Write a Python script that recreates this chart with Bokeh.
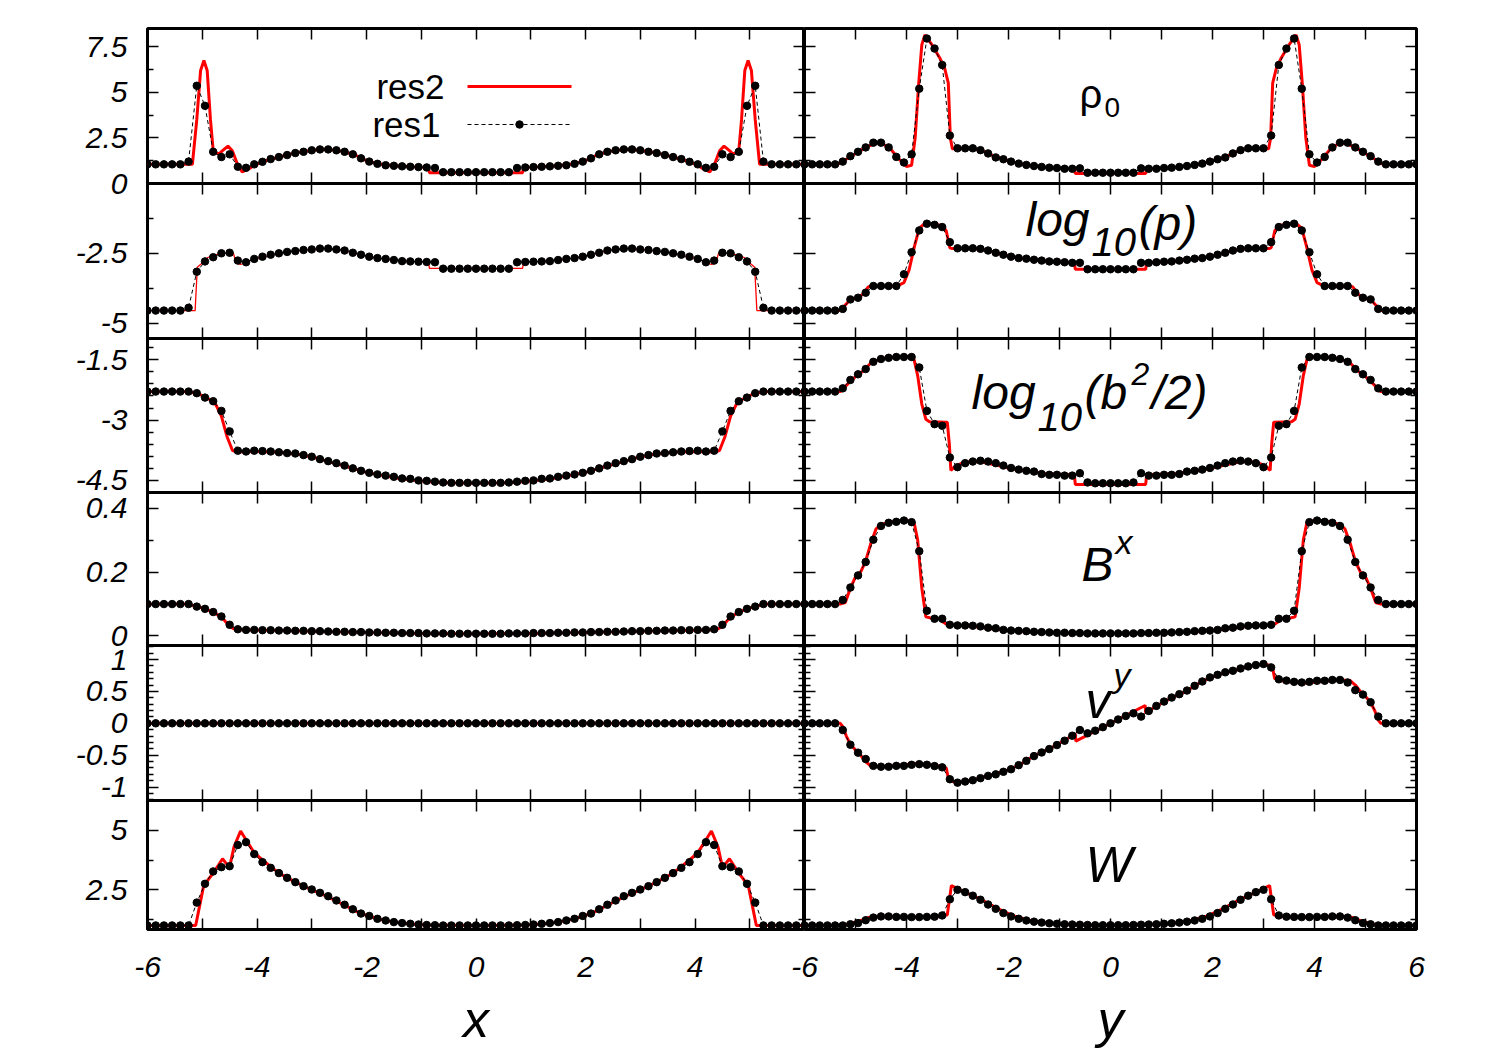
from bokeh.plotting import figure
from bokeh.layouts import row, column
from bokeh.models import (Range1d, LinearAxis, FixedTicker, CustomJSTickFormatter,
                          Label, Arrow)
from bokeh.embed import file_html
from bokeh.resources import INLINE

# ---------------- data ----------------
# coarse run (res1): 81 cell positions on [-6, 6]
X_RES1 = [-6.0, -5.85, -5.7, -5.55, -5.4, -5.25, -5.1, -4.95, -4.8, -4.65,
          -4.5, -4.35, -4.2, -4.05, -3.9, -3.75, -3.6, -3.45, -3.3, -3.15,
          -3.0, -2.85, -2.7, -2.55, -2.4, -2.25, -2.1, -1.95, -1.8, -1.65,
          -1.5, -1.35, -1.2, -1.05, -0.9, -0.75, -0.6, -0.45, -0.3, -0.15,
          0.0, 0.15, 0.3, 0.45, 0.6, 0.75, 0.9, 1.05, 1.2, 1.35,
          1.5, 1.65, 1.8, 1.95, 2.1, 2.25, 2.4, 2.55, 2.7, 2.85,
          3.0, 3.15, 3.3, 3.45, 3.6, 3.75, 3.9, 4.05, 4.2, 4.35,
          4.5, 4.65, 4.8, 4.95, 5.1, 5.25, 5.4, 5.55, 5.7, 5.85, 6.0]

# ----- left column (cut along x) -----
L_RHO_RES1 = [1.05,1.05,1.05,1.05,1.05,1.2,5.36,4.26,1.74,1.45,1.6,0.92,0.86,1.05,1.19,1.34,1.45,1.56,1.67,1.74,
              1.82,1.87,1.87,1.82,1.74,1.6,1.38,1.2,1.08,1.0,0.97,0.94,0.92,0.9,0.88,0.85,0.62,0.62,0.62,0.62,0.62,
              0.62,0.62,0.62,0.62,0.85,0.88,0.9,0.92,0.94,0.97,1.0,1.08,1.2,1.38,1.6,1.74,1.82,1.87,1.87,
              1.82,1.74,1.67,1.56,1.45,1.34,1.19,1.05,0.86,0.92,1.6,1.45,1.74,4.26,5.36,1.2,1.05,1.05,1.05,1.05,1.05]
L_RHO_RES2_X = [-6, -5.18, -5.1, -5.03, -4.97, -4.91, -4.85, -4.8, -4.7, -4.63, -4.53, -4.45, -4.35, -4.27, -4.15,
                -4.05, -3.9, -3.6, -3.3, -3.0, -2.8, -2.6, -2.4, -2.2, -2.0, -1.8, -1.5, -1.2, -0.87, -0.85,
                0.85, 0.87, 1.2, 1.5, 1.8, 2.0, 2.2, 2.4, 2.6, 2.8, 3.0, 3.3, 3.6, 3.9, 4.05,
                4.15, 4.27, 4.35, 4.45, 4.53, 4.63, 4.7, 4.8, 4.85, 4.91, 4.97, 5.03, 5.1, 5.18, 6]
L_RHO_RES2_Y = [1.05, 1.05, 3.5, 6.2, 6.75, 6.2, 3.5, 1.8, 1.6, 1.8, 2.05, 1.8, 1.0, 0.64, 0.8,
                1.0, 1.19, 1.45, 1.67, 1.82, 1.88, 1.84, 1.74, 1.55, 1.25, 1.08, 0.97, 0.92, 0.88, 0.59,
                0.59, 0.88, 0.92, 0.97, 1.08, 1.25, 1.55, 1.74, 1.84, 1.88, 1.82, 1.67, 1.45, 1.19, 1.0,
                0.8, 0.64, 1.0, 1.8, 2.05, 1.8, 1.6, 1.8, 3.5, 6.2, 6.75, 6.2, 3.5, 1.05, 1.05]

L_P_RES1 = [-4.55,-4.55,-4.55,-4.55,-4.55,-4.45,-3.16,-2.79,-2.64,-2.5,-2.48,-2.76,-2.82,-2.7,-2.62,-2.55,-2.5,-2.45,-2.42,-2.38,
            -2.36,-2.33,-2.33,-2.36,-2.4,-2.48,-2.55,-2.62,-2.67,-2.7,-2.74,-2.78,-2.79,-2.8,-2.81,-2.82,-3.05,-3.05,-3.05,-3.05,-3.05,
            -3.05,-3.05,-3.05,-3.05,-2.82,-2.81,-2.8,-2.79,-2.78,-2.74,-2.7,-2.67,-2.62,-2.55,-2.48,-2.4,-2.36,-2.33,-2.33,
            -2.36,-2.38,-2.42,-2.45,-2.5,-2.55,-2.62,-2.7,-2.82,-2.76,-2.48,-2.5,-2.64,-2.79,-3.16,-4.45,-4.55,-4.55,-4.55,-4.55,-4.55]
L_P_RES2_X = [-6, -5.13, -5.09, -5.0, -4.9, -4.75, -4.6, -4.43, -4.38, -4.3, -4.15, -4.0, -3.6, -3.3, -3.0, -2.8,
              -2.6, -2.4, -2.1, -1.8, -1.5, -1.2, -0.87, -0.85, 0.85, 0.87, 1.2, 1.5, 1.8, 2.1, 2.4, 2.6,
              2.8, 3.0, 3.3, 3.6, 4.0, 4.15, 4.3, 4.38, 4.43, 4.6, 4.75, 4.9, 5.0, 5.09, 5.13, 6]
L_P_RES2_Y = [-4.55, -4.55, -3.0, -2.85, -2.65, -2.55, -2.5, -2.5, -2.85, -2.9, -2.78, -2.68, -2.5, -2.42, -2.36, -2.33,
              -2.35, -2.4, -2.55, -2.67, -2.74, -2.79, -2.81, -3.04, -3.04, -2.81, -2.79, -2.74, -2.67, -2.55, -2.4, -2.35,
              -2.33, -2.36, -2.42, -2.5, -2.68, -2.78, -2.9, -2.85, -2.5, -2.5, -2.55, -2.65, -2.85, -3.0, -4.55, -4.55]

L_B2_RES1 = [-2.29,-2.29,-2.29,-2.29,-2.29,-2.29,-2.33,-2.44,-2.53,-2.77,-3.28,-3.76,-3.78,-3.76,-3.77,-3.78,-3.8,-3.82,-3.83,-3.87,
             -3.91,-3.97,-4.02,-4.07,-4.13,-4.2,-4.26,-4.31,-4.35,-4.38,-4.41,-4.45,-4.46,-4.5,-4.51,-4.53,-4.55,-4.56,-4.56,-4.56,-4.56,
             -4.56,-4.56,-4.56,-4.55,-4.53,-4.51,-4.5,-4.46,-4.45,-4.41,-4.38,-4.35,-4.31,-4.26,-4.2,-4.13,-4.07,-4.02,-3.97,
             -3.91,-3.87,-3.83,-3.82,-3.8,-3.78,-3.77,-3.76,-3.78,-3.76,-3.28,-2.77,-2.53,-2.44,-2.33,-2.29,-2.29,-2.29,-2.29,-2.29,-2.29]
L_B2_RES2_X = [-6, -5.3, -5.1, -4.95, -4.85, -4.75, -4.65, -4.55, -4.45, -4.38, -4.0, -3.6, -3.2, -2.9, -2.6,
               -2.3, -2.0, -1.7, -1.4, -1.1, -0.8, -0.5, 0, 0.5, 0.8, 1.1, 1.4, 1.7, 2.0, 2.3,
               2.6, 2.9, 3.2, 3.6, 4.0, 4.38, 4.45, 4.55, 4.65, 4.75, 4.85, 4.95, 5.1, 5.3, 6]
L_B2_RES2_Y = [-2.29, -2.29, -2.33, -2.42, -2.5, -2.62, -2.9, -3.4, -3.75, -3.79, -3.78, -3.8, -3.86, -3.95, -4.07,
               -4.18, -4.3, -4.38, -4.45, -4.5, -4.54, -4.56, -4.57, -4.56, -4.54, -4.5, -4.45, -4.38, -4.3, -4.18,
               -4.07, -3.95, -3.86, -3.8, -3.78, -3.79, -3.75, -3.4, -2.9, -2.62, -2.5, -2.42, -2.33, -2.29, -2.29]

L_BX_RES1 = [0.1,0.1,0.1,0.1,0.1,0.1,0.092,0.085,0.075,0.061,0.035,0.021,0.019,0.019,0.018,0.018,0.017,0.017,0.016,0.016,
             0.015,0.015,0.014,0.013,0.013,0.012,0.012,0.011,0.011,0.010,0.010,0.009,0.009,0.009,0.008,0.008,0.008,0.007,0.007,0.007,0.007,
             0.007,0.007,0.007,0.008,0.008,0.008,0.009,0.009,0.009,0.010,0.010,0.011,0.011,0.012,0.012,0.013,0.013,0.014,0.015,
             0.015,0.016,0.016,0.017,0.017,0.018,0.018,0.019,0.019,0.021,0.035,0.061,0.075,0.085,0.092,0.1,0.1,0.1,0.1,0.1,0.1]
L_BX_RES2_X = [-6, -5.3, -5.1, -4.9, -4.75, -4.6, -4.5, -4.4, -4.2, -3.0, -2.0, -1.0, 0,
               1.0, 2.0, 3.0, 4.2, 4.4, 4.5, 4.6, 4.75, 4.9, 5.1, 5.3, 6]
L_BX_RES2_Y = [0.1, 0.1, 0.093, 0.082, 0.07, 0.05, 0.03, 0.02, 0.019, 0.015, 0.011, 0.008, 0.007,
               0.008, 0.011, 0.015, 0.019, 0.02, 0.03, 0.05, 0.07, 0.082, 0.093, 0.1, 0.1]

L_VY_RES1 = [0.0] * 81          # v^y vanishes along the x cut
L_VY_RES2_X = [-6, 6]
L_VY_RES2_Y = [0.0, 0.0]

L_W_RES1 = [1.0,1.0,1.0,1.0,1.0,1.0,1.96,2.75,3.27,3.45,3.49,4.38,4.5,4.0,3.66,3.42,3.2,3.0,2.82,2.65,
            2.51,2.37,2.23,2.05,1.87,1.68,1.5,1.4,1.28,1.21,1.14,1.1,1.07,1.04,1.02,1.01,1.0,1.0,1.0,1.0,1.0,
            1.0,1.0,1.0,1.0,1.01,1.02,1.04,1.07,1.1,1.14,1.21,1.28,1.4,1.5,1.68,1.87,2.05,2.23,2.37,
            2.51,2.65,2.82,3.0,3.2,3.42,3.66,4.0,4.5,4.38,3.49,3.45,3.27,2.75,1.96,1.0,1.0,1.0,1.0,1.0,1.0]
L_W_RES2_X = [-6, -5.12, -5.05, -4.98, -4.9, -4.8, -4.7, -4.63, -4.56, -4.5, -4.42, -4.3, -4.2, -4.05, -3.9, -3.6,
              -3.3, -3.0, -2.7, -2.4, -2.1, -1.8, -1.5, -1.2, -0.9, 0, 0.9, 1.2, 1.5, 1.8, 2.1, 2.4, 2.7, 3.0,
              3.3, 3.6, 3.9, 4.05, 4.2, 4.3, 4.42, 4.5, 4.56, 4.63, 4.7, 4.8, 4.9, 4.98, 5.05, 5.12, 6]
L_W_RES2_Y = [1.0, 1.0, 1.8, 2.6, 2.9, 3.2, 3.55, 3.8, 3.6, 3.45, 4.3, 4.97, 4.6, 4.05, 3.75, 3.2,
              2.82, 2.5, 2.2, 1.85, 1.5, 1.28, 1.14, 1.06, 1.02, 1.0, 1.02, 1.06, 1.14, 1.28, 1.5, 1.85, 2.2, 2.5,
              2.82, 3.2, 3.75, 4.05, 4.6, 4.97, 4.3, 3.45, 3.6, 3.8, 3.55, 3.2, 2.9, 2.6, 1.8, 1.0, 1.0]

# ----- right column (cut along y) -----
R_RHO_RES1 = [1.05,1.05,1.05,1.05,1.05,1.2,1.5,1.74,1.98,2.24,2.24,1.98,1.46,1.15,1.6,5.2,7.95,7.4,6.5,2.63,
              1.93,1.93,1.93,1.83,1.65,1.43,1.33,1.2,1.09,1.02,0.96,0.91,0.87,0.85,0.81,0.81,0.83,0.59,0.59,0.59,0.59,
              0.59,0.59,0.59,0.83,0.81,0.81,0.85,0.87,0.91,0.96,1.02,1.09,1.2,1.33,1.43,1.65,1.83,1.93,1.93,
              1.93,2.63,6.5,7.4,7.95,5.2,1.6,1.15,1.46,1.98,2.24,2.24,1.98,1.74,1.5,1.2,1.05,1.05,1.05,1.05,1.05]
R_RHO_RES2_X = [-6, -5.35, -5.2, -5.0, -4.8, -4.6, -4.45, -4.3, -4.15, -4.0, -3.9, -3.83, -3.76, -3.7, -3.64, -3.5,
                -3.35, -3.25, -3.18, -3.14, -3.1, -2.7, -2.55, -2.4, -2.25, -2.1, -1.95, -1.8, -1.5, -1.2, -0.9, -0.71, -0.69,
                0.69, 0.71, 0.9, 1.2, 1.5, 1.8, 1.95, 2.1, 2.25, 2.4, 2.55, 2.7, 3.1, 3.14, 3.18, 3.25, 3.35,
                3.5, 3.64, 3.7, 3.76, 3.83, 3.9, 4.0, 4.15, 4.3, 4.45, 4.6, 4.8, 5.0, 5.2, 5.35, 6]
R_RHO_RES2_Y = [1.05, 1.05, 1.3, 1.65, 1.98, 2.22, 2.15, 1.85, 1.35, 0.93, 1.0, 2.5, 5.5, 7.6, 8.15, 7.6,
                6.9, 6.3, 5.5, 2.5, 1.9, 1.93, 1.83, 1.65, 1.45, 1.33, 1.2, 1.1, 0.96, 0.87, 0.82, 0.8, 0.55,
                0.55, 0.8, 0.82, 0.87, 0.96, 1.1, 1.2, 1.33, 1.45, 1.65, 1.83, 1.93, 1.9, 2.5, 5.5, 6.3, 6.9,
                7.6, 8.15, 7.6, 5.5, 2.5, 1.0, 0.93, 1.35, 1.85, 2.15, 2.22, 1.98, 1.65, 1.3, 1.05, 1.05]

R_P_RES1 = [-4.55,-4.55,-4.55,-4.55,-4.55,-4.49,-4.15,-4.09,-3.91,-3.67,-3.67,-3.67,-3.67,-3.25,-2.46,-1.68,-1.44,-1.48,-1.56,-2.1,
            -2.32,-2.32,-2.32,-2.34,-2.4,-2.48,-2.55,-2.62,-2.67,-2.69,-2.73,-2.76,-2.79,-2.8,-2.82,-2.84,-2.84,-3.07,-3.07,-3.07,-3.07,
            -3.07,-3.07,-3.07,-2.84,-2.84,-2.82,-2.8,-2.79,-2.76,-2.73,-2.69,-2.67,-2.62,-2.55,-2.48,-2.4,-2.34,-2.32,-2.32,
            -2.32,-2.1,-1.56,-1.48,-1.44,-1.68,-2.46,-3.25,-3.67,-3.67,-3.67,-3.67,-3.91,-4.09,-4.15,-4.49,-4.55,-4.55,-4.55,-4.55,-4.55]
R_P_RES2_X = [-6, -5.3, -5.2, -5.1, -4.95, -4.85, -4.75, -4.6, -4.2, -4.05, -3.95, -3.85, -3.75, -3.65, -3.5, -3.3,
              -3.22, -3.15, -3.1, -2.7, -2.4, -2.1, -1.8, -1.5, -1.2, -0.9, -0.71, -0.69,
              0.69, 0.71, 0.9, 1.2, 1.5, 1.8, 2.1, 2.4, 2.7, 3.1, 3.15, 3.22, 3.3, 3.5,
              3.65, 3.75, 3.85, 3.95, 4.05, 4.2, 4.6, 4.75, 4.85, 4.95, 5.1, 5.2, 5.3, 6]
R_P_RES2_Y = [-4.55, -4.55, -4.35, -4.15, -4.1, -3.95, -3.7, -3.68, -3.68, -3.55, -3.1, -2.3, -1.6, -1.45, -1.45, -1.5,
              -1.7, -2.3, -2.33, -2.33, -2.4, -2.55, -2.67, -2.73, -2.79, -2.82, -2.84, -3.07,
              -3.07, -2.84, -2.82, -2.79, -2.73, -2.67, -2.55, -2.4, -2.33, -2.33, -2.3, -1.7, -1.5, -1.45,
              -1.45, -1.6, -2.3, -3.1, -3.55, -3.68, -3.68, -3.7, -3.95, -4.1, -4.15, -4.35, -4.55, -4.55]

R_B2_RES1 = [-2.29,-2.29,-2.29,-2.29,-2.29,-2.21,-2.0,-1.86,-1.73,-1.55,-1.48,-1.45,-1.43,-1.43,-1.43,-1.69,-2.77,-3.1,-3.14,-3.93,
             -4.17,-4.07,-4.03,-4.01,-4.03,-4.07,-4.13,-4.19,-4.23,-4.26,-4.28,-4.34,-4.36,-4.36,-4.38,-4.38,-4.32,-4.55,-4.57,-4.57,-4.57,
             -4.57,-4.57,-4.55,-4.32,-4.38,-4.38,-4.36,-4.36,-4.34,-4.28,-4.26,-4.23,-4.19,-4.13,-4.07,-4.03,-4.01,-4.03,-4.07,
             -4.17,-3.93,-3.14,-3.1,-2.77,-1.69,-1.43,-1.43,-1.43,-1.45,-1.48,-1.55,-1.73,-1.86,-2.0,-2.21,-2.29,-2.29,-2.29,-2.29,-2.29]
R_B2_RES2_X = [-6, -5.3, -5.15, -5.0, -4.85, -4.7, -4.5, -4.2, -3.95, -3.85, -3.78, -3.7, -3.62, -3.55, -3.2, -3.16,
               -3.13, -3.05, -2.9, -2.7, -2.5, -2.2, -1.9, -1.6, -1.3, -0.9, -0.71, -0.69,
               0.69, 0.71, 0.9, 1.3, 1.6, 1.9, 2.2, 2.5, 2.7, 2.9, 3.05, 3.13, 3.16, 3.2,
               3.55, 3.62, 3.7, 3.78, 3.85, 3.95, 4.2, 4.5, 4.7, 4.85, 5.0, 5.15, 5.3, 6]
R_B2_RES2_Y = [-2.29, -2.29, -2.1, -1.92, -1.78, -1.58, -1.47, -1.43, -1.42, -1.5, -1.9, -2.6, -2.98, -3.04, -3.05, -3.6,
               -4.25, -4.15, -4.06, -4.02, -4.05, -4.13, -4.22, -4.28, -4.33, -4.35, -4.35, -4.6,
               -4.6, -4.35, -4.35, -4.33, -4.28, -4.22, -4.13, -4.05, -4.02, -4.06, -4.15, -4.25, -3.6, -3.05,
               -3.04, -2.98, -2.6, -1.9, -1.5, -1.42, -1.43, -1.47, -1.58, -1.78, -1.92, -2.1, -2.29, -2.29]

R_BX_RES1 = [0.1,0.1,0.1,0.1,0.1,0.113,0.152,0.19,0.232,0.302,0.345,0.355,0.358,0.362,0.357,0.266,0.079,0.054,0.054,0.035,
             0.033,0.033,0.032,0.03,0.026,0.024,0.019,0.017,0.016,0.015,0.013,0.012,0.011,0.01,0.01,0.009,0.009,0.008,0.008,0.008,0.008,
             0.008,0.008,0.008,0.009,0.009,0.01,0.01,0.011,0.012,0.013,0.015,0.016,0.017,0.019,0.024,0.026,0.03,0.032,0.033,
             0.033,0.035,0.054,0.054,0.079,0.266,0.357,0.362,0.358,0.355,0.345,0.302,0.232,0.19,0.152,0.113,0.1,0.1,0.1,0.1,0.1]
R_BX_RES2_X = [-6, -5.3, -5.2, -5.1, -5.0, -4.9, -4.8, -4.7, -4.6, -4.5, -4.3, -4.0, -3.85, -3.78, -3.7, -3.62,
               -3.5, -3.35, -3.3, -3.2, -2.8, -2.4, -2.0, -1.5, -1.0, 0, 1.0, 1.5, 2.0, 2.4, 2.8, 3.2,
               3.3, 3.35, 3.5, 3.62, 3.7, 3.78, 3.85, 4.0, 4.3, 4.5, 4.6, 4.7, 4.8, 4.9, 5.0, 5.1, 5.2, 5.3, 6]
R_BX_RES2_Y = [0.1, 0.1, 0.105, 0.15, 0.185, 0.2, 0.235, 0.29, 0.335, 0.35, 0.358, 0.362, 0.355, 0.3, 0.15, 0.06,
               0.055, 0.055, 0.045, 0.035, 0.032, 0.024, 0.017, 0.012, 0.009, 0.008, 0.009, 0.012, 0.017, 0.024, 0.032, 0.035,
               0.045, 0.055, 0.055, 0.06, 0.15, 0.3, 0.355, 0.362, 0.358, 0.35, 0.335, 0.29, 0.235, 0.2, 0.185, 0.15, 0.105, 0.1, 0.1]

R_VY_RES1 = [0.0,0.0,0.0,0.0,0.0,-0.105,-0.336,-0.46,-0.56,-0.667,-0.68,-0.68,-0.667,-0.667,-0.65,-0.64,-0.65,-0.67,-0.69,-0.877,
             -0.93,-0.913,-0.892,-0.86,-0.824,-0.8,-0.76,-0.72,-0.656,-0.588,-0.514,-0.457,-0.404,-0.341,-0.273,-0.194,-0.105,-0.157,-0.115,-0.06,0.0,
             0.06,0.115,0.157,0.105,0.194,0.273,0.341,0.404,0.457,0.514,0.588,0.656,0.72,0.76,0.8,0.824,0.86,0.892,0.913,
             0.93,0.877,0.69,0.67,0.65,0.64,0.65,0.667,0.667,0.68,0.68,0.64,0.52,0.45,0.33,0.105,0.0,0.0,0.0,0.0,0.0]
R_VY_RES2_X = [-6, -5.3, -5.25, -5.18, -5.1, -5.0, -4.9, -4.8, -4.7, -4.5, -4.2, -3.8, -3.4, -3.22, -3.17, -3.0,
               -2.7, -2.4, -2.1, -1.8, -1.5, -1.2, -0.9, -0.69, -0.68,
               0.68, 0.69, 0.9, 1.2, 1.5, 1.8, 2.1, 2.4, 2.7, 3.0, 3.17, 3.22, 3.4, 3.8, 4.2,
               4.5, 4.7, 4.8, 4.9, 5.0, 5.1, 5.18, 5.25, 5.3, 6]
R_VY_RES2_Y = [0.0, 0.0, -0.05, -0.2, -0.33, -0.42, -0.5, -0.6, -0.67, -0.68, -0.66, -0.63, -0.66, -0.7, -0.9, -0.93,
               -0.89, -0.82, -0.76, -0.66, -0.51, -0.4, -0.27, -0.16, -0.28,
               0.28, 0.16, 0.27, 0.4, 0.51, 0.66, 0.76, 0.82, 0.89, 0.93, 0.9, 0.7, 0.66, 0.63, 0.66,
               0.68, 0.67, 0.6, 0.5, 0.42, 0.33, 0.2, 0.05, 0.0, 0.0]

R_W_RES1 = [1.0,1.0,1.0,1.0,1.0,1.0,1.05,1.1,1.22,1.33,1.38,1.38,1.36,1.36,1.35,1.35,1.36,1.37,1.42,2.1,
            2.5,2.4,2.25,2.08,1.88,1.7,1.52,1.38,1.28,1.21,1.16,1.12,1.09,1.07,1.05,1.04,1.03,1.02,1.01,1.01,1.01,
            1.01,1.01,1.02,1.03,1.04,1.05,1.07,1.09,1.12,1.16,1.21,1.28,1.38,1.52,1.7,1.88,2.08,2.25,2.4,
            2.5,2.1,1.42,1.37,1.36,1.35,1.35,1.36,1.36,1.38,1.38,1.33,1.22,1.1,1.05,1.0,1.0,1.0,1.0,1.0,1.0]
R_W_RES2_X = [-6, -5.3, -5.1, -4.9, -4.75, -4.55, -4.2, -3.6, -3.3, -3.2, -3.15, -3.12, -3.0, -2.8, -2.5, -2.2,
              -1.9, -1.6, -1.3, -1.0, -0.5, 0, 0.5, 1.0, 1.3, 1.6, 1.9, 2.2, 2.5, 2.8, 3.0, 3.12,
              3.15, 3.2, 3.3, 3.6, 4.2, 4.55, 4.75, 4.9, 5.1, 5.3, 6]
R_W_RES2_Y = [1.0, 1.0, 1.08, 1.2, 1.33, 1.38, 1.37, 1.36, 1.38, 1.45, 2.2, 2.68, 2.55, 2.35, 2.05, 1.7,
              1.4, 1.22, 1.12, 1.06, 1.02, 1.01, 1.02, 1.06, 1.12, 1.22, 1.4, 1.7, 2.05, 2.35, 2.55, 2.68,
              2.2, 1.45, 1.38, 1.36, 1.37, 1.38, 1.33, 1.2, 1.08, 1.0, 1.0]

LEFT_RES1 = [L_RHO_RES1, L_P_RES1, L_B2_RES1, L_BX_RES1, L_VY_RES1, L_W_RES1]
LEFT_RES2 = [(L_RHO_RES2_X, L_RHO_RES2_Y), (L_P_RES2_X, L_P_RES2_Y), (L_B2_RES2_X, L_B2_RES2_Y),
             (L_BX_RES2_X, L_BX_RES2_Y), (L_VY_RES2_X, L_VY_RES2_Y), (L_W_RES2_X, L_W_RES2_Y)]
RIGHT_RES1 = [R_RHO_RES1, R_P_RES1, R_B2_RES1, R_BX_RES1, R_VY_RES1, R_W_RES1]
RIGHT_RES2 = [(R_RHO_RES2_X, R_RHO_RES2_Y), (R_P_RES2_X, R_P_RES2_Y), (R_B2_RES2_X, R_B2_RES2_Y),
              (R_BX_RES2_X, R_BX_RES2_Y), (R_VY_RES2_X, R_VY_RES2_Y), (R_W_RES2_X, R_W_RES2_Y)]

for arr in LEFT_RES1 + RIGHT_RES1:
    assert len(arr) == len(X_RES1), len(arr)
for xs, ys in LEFT_RES2 + RIGHT_RES2:
    assert len(xs) == len(ys), (len(xs), len(ys))

# axes: ranges and ticks
X_MAJOR = [-6, -4, -2, 0, 2, 4, 6]
X_MINOR = [-5, -3, -1, 1, 3, 5]
Y_RANGES = [(0, 8.5), (-5.55, 0), (-4.8, -0.97), (-0.03, 0.45), (-1.21, 1.22), (0.83, 6.25)]
Y_MAJOR = [[0, 2.5, 5, 7.5], [-5, -2.5, 0], [-4.5, -3, -1.5], [0, 0.2, 0.4],
           [-1, -0.5, 0, 0.5, 1], [2.5, 5]]
Y_MINOR = [[1.25, 3.75, 6.25], [-3.75, -1.25],
           [-4.2, -3.9, -3.6, -3.3, -2.7, -2.4, -2.1, -1.8, -1.2],
           [0.1, 0.3],
           [-1.2, -1.1, -0.9, -0.8, -0.7, -0.6, -0.4, -0.3, -0.2, -0.1,
            0.1, 0.2, 0.3, 0.4, 0.6, 0.7, 0.8, 0.9, 1.1, 1.2],
           [1.25, 3.75]]

# ---------------- style / layout ----------------
FONT = "Liberation Sans"
RED = "#ff0000"
LEFT_BORDER = 147
LEFT_FRAME_W = 657
RIGHT_FRAME_W = 612
OVERLAP = 20            # right column canvases overlap the left ones (transparent border)
RIGHT_BORDER = 25
FRAME_H = [155, 155, 154, 153, 155, 129]
TOP_BORDER = 28
BOTTOM_BORDER = 113
V_TOP = 20              # transparent top border of rows 2..6 (overlaps the row above)
V_BOT = 14              # transparent bottom border of rows 1..5
TICK_FONT = "30px"

Y_CODE = ("var v = Math.round(tick*1000)/1000;"
          "if (Math.abs(v) < 1e-9) { return '0'; }"
          "return String(v);")
Y_CODE_TOP = ("var v = Math.round(tick*1000)/1000;"
              "if (Math.abs(v) < 1e-9) { return ''; }"
              "return String(v);")
X_CODE_LEFT = "if (tick > 5.5) { return ''; } return String(Math.round(tick));"
X_CODE_RIGHT = "return String(Math.round(tick));"


def add_axis(p, side, major, minor, minor_len, code=None, standoff=0, axis_label=None):
    ax = LinearAxis(ticker=FixedTicker(ticks=major, minor_ticks=minor))
    ax.axis_line_color = None
    ax.major_tick_in = 11
    ax.major_tick_out = 0
    ax.minor_tick_in = minor_len
    ax.minor_tick_out = 0
    ax.major_tick_line_color = "black"
    ax.minor_tick_line_color = "black"
    ax.major_tick_line_width = 1.5
    ax.minor_tick_line_width = 1.5
    if code is not None:
        ax.formatter = CustomJSTickFormatter(code=code)
        ax.major_label_text_font = FONT
        ax.major_label_text_font_style = "italic"
        ax.major_label_text_font_size = TICK_FONT
        ax.major_label_text_color = "black"
        ax.major_label_standoff = standoff
    else:
        ax.formatter = CustomJSTickFormatter(code="return '';")
        ax.major_label_text_font_size = "0px"
        ax.major_label_standoff = 0
    if axis_label:
        ax.axis_label = axis_label
        ax.axis_label_text_font = FONT
        ax.axis_label_text_font_style = "italic"
        ax.axis_label_text_font_size = "52px"
        ax.axis_label_text_color = "black"
        ax.axis_label_standoff = 10
    p.add_layout(ax, side)


def make_panel(col, r, res1_y, res2, red_w=3):
    left = col == 0
    p = figure(frame_width=LEFT_FRAME_W if left else RIGHT_FRAME_W,
               frame_height=FRAME_H[r],
               x_range=Range1d(-6, 6), y_range=Range1d(*Y_RANGES[r]),
               x_axis_type=None, y_axis_type=None,
               output_backend="svg", toolbar_location=None,
               min_border_left=LEFT_BORDER if left else OVERLAP,
               min_border_right=0 if left else RIGHT_BORDER,
               min_border_top=TOP_BORDER if r == 0 else V_TOP,
               min_border_bottom=BOTTOM_BORDER if r == 5 else V_BOT,
               margin=(0, 0, 0, 0) if r == 0 else (-(V_TOP + V_BOT), 0, 0, 0))
    p.outline_line_color = "black"
    p.outline_line_width = 3
    p.border_fill_color = None
    p.background_fill_color = "white"

    add_axis(p, "above", X_MAJOR, X_MINOR, 11)
    if r == 5:
        add_axis(p, "below", X_MAJOR, X_MINOR, 11,
                 code=X_CODE_LEFT if left else X_CODE_RIGHT, standoff=27,
                 axis_label="x" if left else "y")
    else:
        add_axis(p, "below", X_MAJOR, X_MINOR, 11)
    if left:
        add_axis(p, "left", Y_MAJOR[r], Y_MINOR[r], 6,
                 code=Y_CODE_TOP if r == 0 else Y_CODE, standoff=20)
    else:
        add_axis(p, "left", Y_MAJOR[r], Y_MINOR[r], 6)
    add_axis(p, "right", Y_MAJOR[r], Y_MINOR[r], 6)

    p.line(res2[0], res2[1], line_color=RED, line_width=red_w)
    p.line(X_RES1, res1_y, line_color="black", line_width=1, line_dash="4 3")
    p.scatter(X_RES1, res1_y, size=7.5, fill_color="black", line_color="black")
    return p


left_figs = [make_panel(0, r, LEFT_RES1[r], LEFT_RES2[r], 1.3 if r == 1 else 3) for r in range(6)]
right_figs = [make_panel(1, r, RIGHT_RES1[r], RIGHT_RES2[r]) for r in range(6)]

# ---- legend (top-left panel, key text to the left of the sample) ----
p0 = left_figs[0]
p0.add_layout(Label(x=-0.575, y=5.333, text="res2", text_font=FONT, text_font_size="35px",
                    text_color="black", text_align="right", text_baseline="middle"))
p0.add_layout(Label(x=-0.648, y=3.249, text="res1", text_font=FONT, text_font_size="35px",
                    text_color="black", text_align="right", text_baseline="middle"))
p0.add_layout(Arrow(x_start=-0.155, y_start=5.319, x_end=1.745, y_end=5.319, end=None,
                    line_color=RED, line_width=3))
p0.add_layout(Arrow(x_start=-0.155, y_start=3.236, x_end=1.745, y_end=3.236, end=None,
                    line_color="black", line_width=1, line_dash="4 3"))
p0.scatter([0.795], [3.236], size=7.5, fill_color="black", line_color="black")

# ---- panel titles (right column), vertically centred ----
TITLES = [
    (0, "\u03c1", -0.608, 4.881, "40px", "normal"),
    (0, "0", -0.118, 4.157, "28px", "normal"),
    (1, "log", -1.667, -1.296, "48px", "italic"),
    (1, "10", -0.373, -2.112, "40px", "italic"),
    (1, "(p)", 0.549, -1.439, "48px", "italic"),
    (2, "log", -2.725, -2.318, "48px", "italic"),
    (2, "10", -1.431, -2.91, "40px", "italic"),
    (2, "(b", -0.51, -2.318, "48px", "italic"),
    (2, "2", 0.412, -1.86, "32px", "italic"),
    (2, "/2)", 0.804, -2.318, "48px", "italic"),
    (3, "B", -0.569, 0.2235, "48px", "italic"),
    (3, "x", 0.098, 0.296, "34px", "italic"),
    (4, "v", -0.49, 0.35, "50px", "italic"),
    (4, "y", 0.059, 0.764, "34px", "italic"),
    (5, "W", -0.49, 3.54, "50px", "italic"),
]
for r, txt, x, y, size, style in TITLES:
    right_figs[r].add_layout(Label(x=x, y=y, text=txt, text_font=FONT, text_font_size=size,
                                   text_font_style=style, text_color="black",
                                   text_align="left", text_baseline="middle"))

left_col = column(*left_figs)
right_col = column(*right_figs, margin=(0, 0, 0, -OVERLAP))
layout = row(left_col, right_col)

with open("out.html", "w") as f:
    f.write(file_html(layout, INLINE, title="res1 vs res2"))
